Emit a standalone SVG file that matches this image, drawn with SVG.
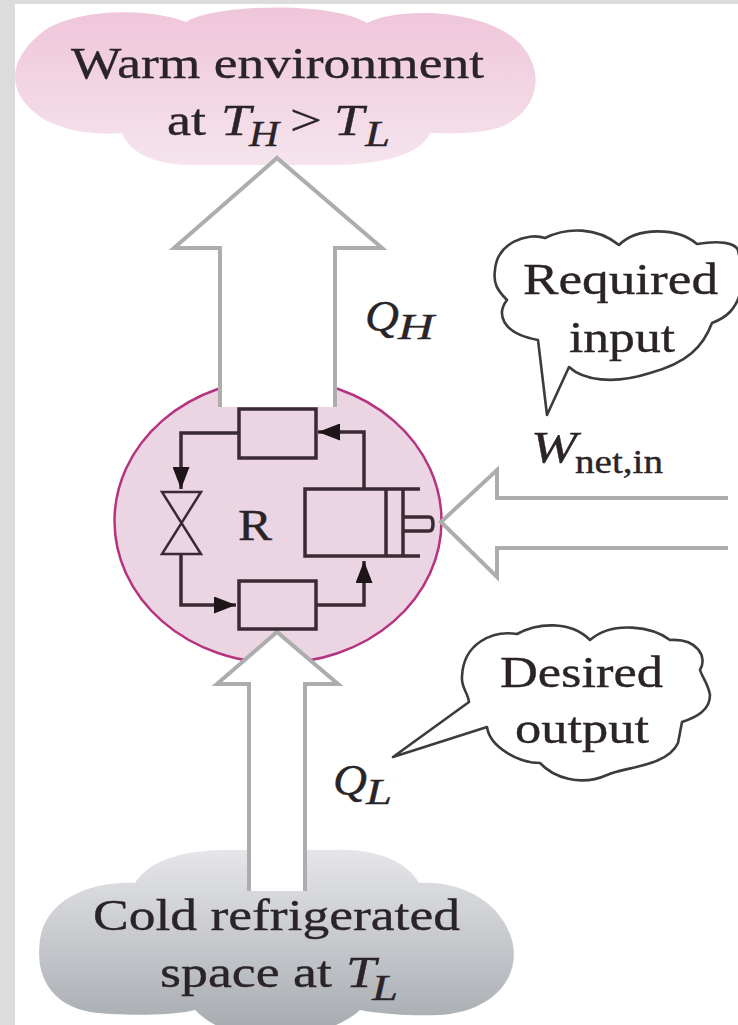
<svg xmlns="http://www.w3.org/2000/svg" width="738" height="1025" viewBox="0 0 738 1025">
<style>
text{font-family:"Liberation Serif","Times New Roman",serif;fill:#2a2328;stroke:#2a2328;stroke-width:.35}
.t{font-size:45px}
.i{font-size:45px;font-style:italic}
.s{font-size:35px;font-style:italic}
.sub{font-size:33px}
.big{fill:#fff;stroke:#adadad;stroke-width:4}
.bub{fill:#fff;stroke:#3c3c3c;stroke-width:2.6;stroke-linejoin:round}
.box{fill:#ecd5e3;stroke:#3a2a35;stroke-width:3.5}
.ln{fill:none;stroke:#3a2a35;stroke-width:3.5}
</style>
<defs>
<linearGradient id="warm" x1="0" y1="0" x2="0" y2="1"><stop offset="0" stop-color="#efc5d9"/><stop offset="1" stop-color="#f5e4ed"/></linearGradient>
<linearGradient id="cold" x1="0" y1="0" x2="0" y2="1"><stop offset="0" stop-color="#e6e6ea"/><stop offset="1" stop-color="#a5aaae"/></linearGradient>
<marker id="ah" viewBox="0 0 22 17" refX="22" refY="8.500" markerWidth="22" markerHeight="17" markerUnits="userSpaceOnUse" orient="auto"><path d="M0,0L22,8.500L0,17Z" fill="#1e1519"/></marker>
</defs>
<rect width="738" height="1025" fill="#fff"/>
<path d="M0,0H738V4H15V1025H0Z" fill="#dcdcdc"/>
<g id="warm-environment">
<path d="M186,22C210,5 330,0 367,23C395,8 470,8 510,35C545,60 545,105 505,125C485,135 450,133 430,133C420,158 370,165 330,165L190,165C160,165 130,155 122,133C100,135 70,133 45,120C5,95 5,60 45,30C80,8 150,8 186,22Z" fill="url(#warm)"/>
<text class="t" x="71" y="78" textLength="413" lengthAdjust="spacingAndGlyphs">Warm environment</text>
<text class="t" x="167" y="135" textLength="39" lengthAdjust="spacingAndGlyphs">at</text>
<text class="i" x="221" y="135" textLength="30" lengthAdjust="spacingAndGlyphs">T</text>
<text class="s" x="249" y="146" textLength="30" lengthAdjust="spacingAndGlyphs">H</text>
<text class="t" x="290" y="135" textLength="32" lengthAdjust="spacingAndGlyphs">&gt;</text>
<text class="i" x="334" y="135" textLength="30" lengthAdjust="spacingAndGlyphs">T</text>
<text class="s" x="365" y="146" textLength="25" lengthAdjust="spacingAndGlyphs">L</text>
</g>
<g id="cold-space">
<path d="M135,883C150,858 190,850 225,850L330,850C370,848 405,858 419,883C460,881 500,900 512,940C522,980 490,1012 440,1015C410,1016 380,1014 360,1010C340,1028 310,1036 270,1036C240,1036 215,1030 195,1010C170,1016 120,1016 90,1012C50,1004 35,975 40,940C45,900 90,881 135,883Z" fill="url(#cold)"/>
</g>
<g id="refrigerator">
<ellipse cx="278" cy="521" rx="163.500" ry="142" fill="#ecd5e3" stroke="#b5337f" stroke-width="2.500"/>
</g>
<g id="connectors">
<path class="big" d="M220,407V248H174L277,158L382,248H335V407"/>
<path class="big" d="M249,891V684H217L277,632L338,684H305V891"/>
<path class="big" d="M728,498H497V470L441,522L497,577V548H728"/>
<path class="ln" d="M239,433H181V489" marker-end="url(#ah)"/>
<path class="ln" d="M181,555V605H236" marker-end="url(#ah)"/>
<path class="ln" d="M316,605H364V561" marker-end="url(#ah)"/>
<path class="ln" d="M364,489V432H318" marker-end="url(#ah)"/>
</g>
<g id="condenser"><rect class="box" x="239" y="409" width="77" height="49"/></g>
<g id="evaporator"><rect class="box" x="239" y="581" width="77" height="48"/></g>
<g id="valve"><path d="M162,492H201L162,554H201Z" fill="none" stroke="#3a2a35" stroke-width="2.500" stroke-linejoin="miter"/></g>
<g id="compressor">
<path class="ln" d="M420,489H305V556H420M386,489V556M403,489V556M403,517H429Q433,517 433,524Q433,531 429,531H403"/>
</g>
<text x="238" y="540" style="font-size:45px" textLength="34" lengthAdjust="spacingAndGlyphs">R</text>
<g id="cold-label">
<text class="t" x="93" y="930" textLength="367" lengthAdjust="spacingAndGlyphs">Cold refrigerated</text>
<text class="t" x="160" y="987" textLength="172" lengthAdjust="spacingAndGlyphs">space at</text>
<text class="i" x="346" y="987" textLength="30" lengthAdjust="spacingAndGlyphs">T</text>
<text class="s" x="372" y="1000" textLength="26" lengthAdjust="spacingAndGlyphs">L</text>
</g>
<g id="qh-label"><text class="i" x="365" y="331" textLength="34" lengthAdjust="spacingAndGlyphs">Q</text><text class="s" x="398" y="339" textLength="36" lengthAdjust="spacingAndGlyphs">H</text></g>
<g id="ql-label"><text class="i" x="333" y="795" textLength="34" lengthAdjust="spacingAndGlyphs">Q</text><text class="s" x="366" y="804" textLength="26" lengthAdjust="spacingAndGlyphs">L</text></g>
<g id="required-input">
<path class="bub" d="M538,340L547,415L569,367C583,380 613,385 650,373C687,363 703,347 712,323C725,318 738,310 742,285C745,270 740,262 738,250C735,243 720,240 697,244C677,227 637,227 619,245C597,227 567,227 545,238C527,232 497,243 495,270C493,283 497,290 507,300C497,313 500,333 538,340Z"/>
<text class="t" x="523" y="294" textLength="195" lengthAdjust="spacingAndGlyphs">Required</text>
<text class="t" x="569" y="352" textLength="106" lengthAdjust="spacingAndGlyphs">input</text>
</g>
<g id="wnet-label"><text class="i" x="531" y="462" textLength="46" lengthAdjust="spacingAndGlyphs">W</text><text class="sub" x="575" y="473" textLength="88" lengthAdjust="spacingAndGlyphs">net,in</text></g>
<g id="desired-output">
<path class="bub" d="M469,702L393,757L487,727C490,748 520,763 540,763C553,777 580,787 607,775C623,767 667,767 678,743L682,722C697,717 710,710 710,695C708,683 702,677 700,670C708,657 697,638 670,640C653,627 613,620 590,640C570,620 537,623 517,634C493,630 463,643 462,677C461,687 468,693 469,702Z"/>
<text class="t" x="500" y="687" textLength="163" lengthAdjust="spacingAndGlyphs">Desired</text>
<text class="t" x="515" y="743" textLength="134" lengthAdjust="spacingAndGlyphs">output</text>
</g>
</svg>
